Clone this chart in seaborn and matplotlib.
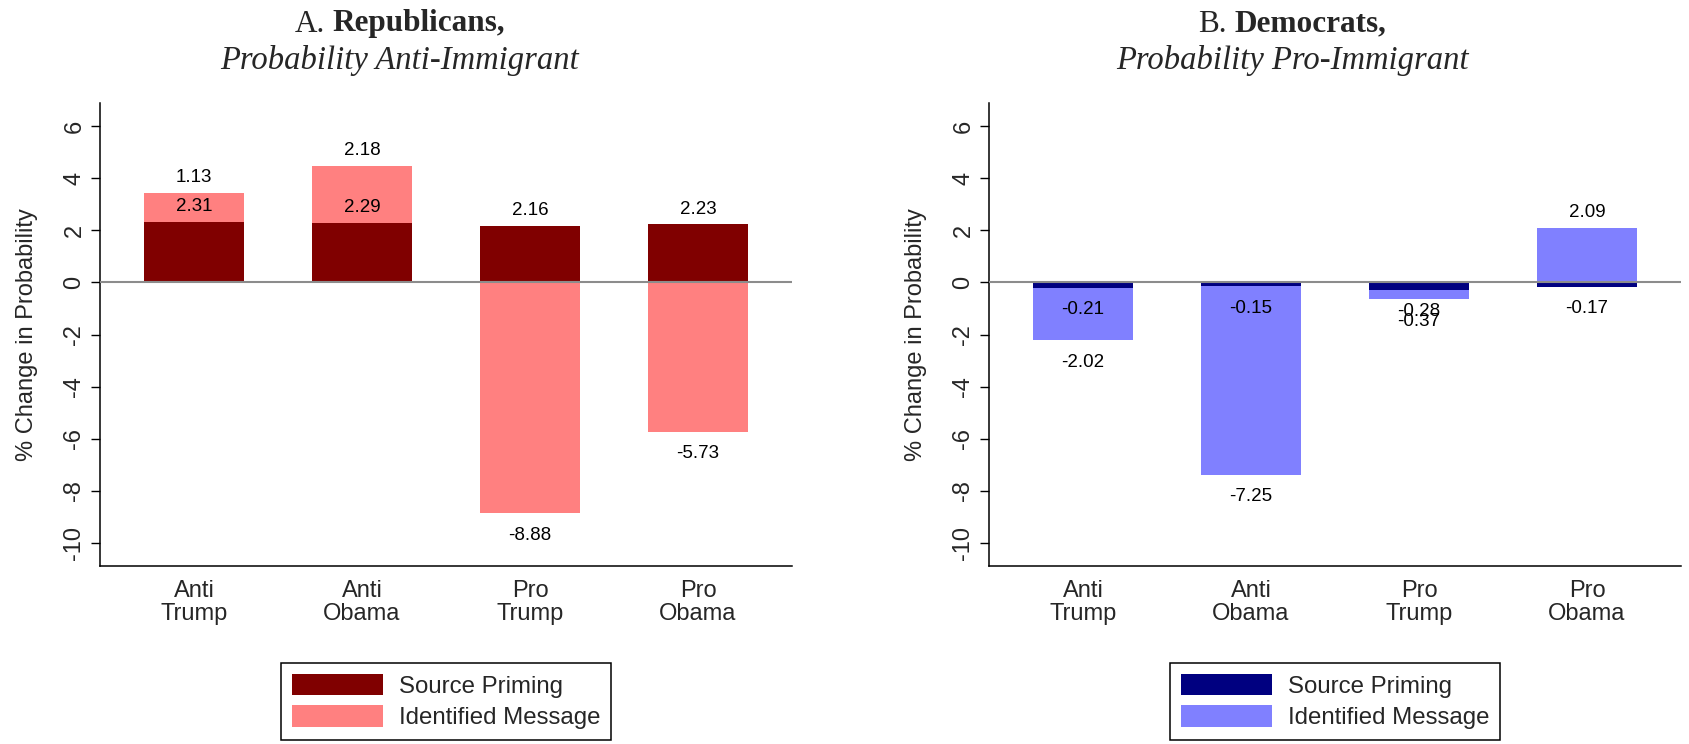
import matplotlib
matplotlib.use("Agg")
import matplotlib.pyplot as plt
from matplotlib.patches import Patch
import pandas as pd
import seaborn as sns

# values
categories = ["Anti\nTrump", "Anti\nObama", "Pro\nTrump", "Pro\nObama"]
rep_source = [2.31, 2.29, 2.16, 2.23]
rep_message = [1.13, 2.18, -8.88, -5.73]
dem_source = [-0.21, -0.15, -0.28, -0.17]
dem_message = [-2.02, -7.25, -0.37, 2.09]

rep_colors = ("#800000", "#ff8080")
dem_colors = ("#000080", "#8080ff")
legend_labels = ["Source Priming", "Identified Message"]

sns.set_theme(style="white")
plt.rcParams["font.family"] = ["Liberation Sans", "DejaVu Sans"]
plt.rcParams["axes.unicode_minus"] = False

W, H = 1690, 744
fig = plt.figure(figsize=(W / 100, H / 100), dpi=100)
renderer = fig.canvas.get_renderer()


def title_line(x_px, y_px, plain, bold, size):
    # "A." in roman, party name in bold, centred together
    t1 = fig.text(0, 1 - y_px / H, plain, fontsize=size, family="Liberation Serif",
                  ha="left", va="center")
    t2 = fig.text(0, 1 - y_px / H, bold, fontsize=size, family="Liberation Serif",
                  weight="bold", ha="left", va="center")
    w1 = t1.get_window_extent(renderer).width
    w2 = t2.get_window_extent(renderer).width
    gap = 0.25 * size * 100 / 72
    start = x_px - (w1 + gap + w2) / 2
    t1.set_x(start / W)
    t2.set_x((start + w1 + gap) / W)


def draw_panel(left_px, source, message, colors, title_bold, title_letter, subtitle, title_x):
    ax = fig.add_axes([left_px / W, 1 - 566 / H, 692 / W, 463 / H])

    # light bar is stacked on the dark one when both go the same way
    reach = [s + m if s * m > 0 else m for s, m in zip(source, message)]
    df = pd.DataFrame({"cat": categories, "source": source, "message": message, "reach": reach})

    sns.barplot(data=df, x="cat", y="reach", order=categories, color=colors[1],
                saturation=1, width=0.6, errorbar=None, linewidth=0, ax=ax)
    sns.barplot(data=df, x="cat", y="source", order=categories, color=colors[0],
                saturation=1, width=0.6, errorbar=None, linewidth=0, ax=ax)

    ax.axhline(0, color="#8c8c8c", lw=1.5, zorder=5)

    for i, row in df.iterrows():
        for val, end in ((row["source"], row["source"]), (row["message"], row["reach"])):
            up = end > 0
            ax.annotate(f"{val:.2f}", xy=(i, end), xytext=(0, 5 if up else -9.5),
                        textcoords="offset points", ha="center",
                        va="bottom" if up else "top", fontsize=13.5, color="black")

    ax.set_xlim(-0.56, 3.56)
    ax.set_ylim(-10.9, 6.9)
    ax.set_yticks(range(-10, 7, 2))
    ax.set_xlabel("")
    ax.set_ylabel("% Change in Probability", fontsize=17)
    ax.yaxis.set_label_coords(-0.09, 0.5)

    ax.tick_params(axis="y", left=True, length=6.5, width=1, color="black",
                   labelsize=17, pad=4, labelrotation=90)
    for t in ax.get_yticklabels():
        t.set_va("center")
    ax.tick_params(axis="x", bottom=False, length=0, labelsize=17, pad=10)
    for t in ax.get_xticklabels():
        t.set_linespacing(1.05)

    sns.despine(ax=ax)
    for side in ("left", "bottom"):
        ax.spines[side].set_color("black")
        ax.spines[side].set_linewidth(1.1)

    handles = [Patch(facecolor=c, edgecolor="none", label=l) for c, l in zip(colors, legend_labels)]
    center_x = (left_px + 346) / W
    leg = ax.legend(handles=handles, loc="upper center", bbox_to_anchor=(center_x, 1 - 663 / H),
                    bbox_transform=fig.transFigure, borderaxespad=0, fontsize=17.3,
                    frameon=True, fancybox=False, framealpha=1, edgecolor="black",
                    handlelength=3.8, handleheight=1.0, handletextpad=0.65,
                    labelspacing=0.3, borderpad=0.45)
    leg.get_frame().set_linewidth(1.1)

    title_line(title_x, 24, title_letter, title_bold, 22.5)
    fig.text(title_x / W, 1 - 60 / H, subtitle, ha="center", va="center",
             fontsize=23.5, family="Liberation Serif", style="italic")
    return ax


draw_panel(100, rep_source, rep_message, rep_colors, "Republicans,", "A.",
           "Probability Anti-Immigrant", 400)
draw_panel(989, dem_source, dem_message, dem_colors, "Democrats,", "B.",
           "Probability Pro-Immigrant", 1292)

fig.savefig("out.png", dpi=100)
